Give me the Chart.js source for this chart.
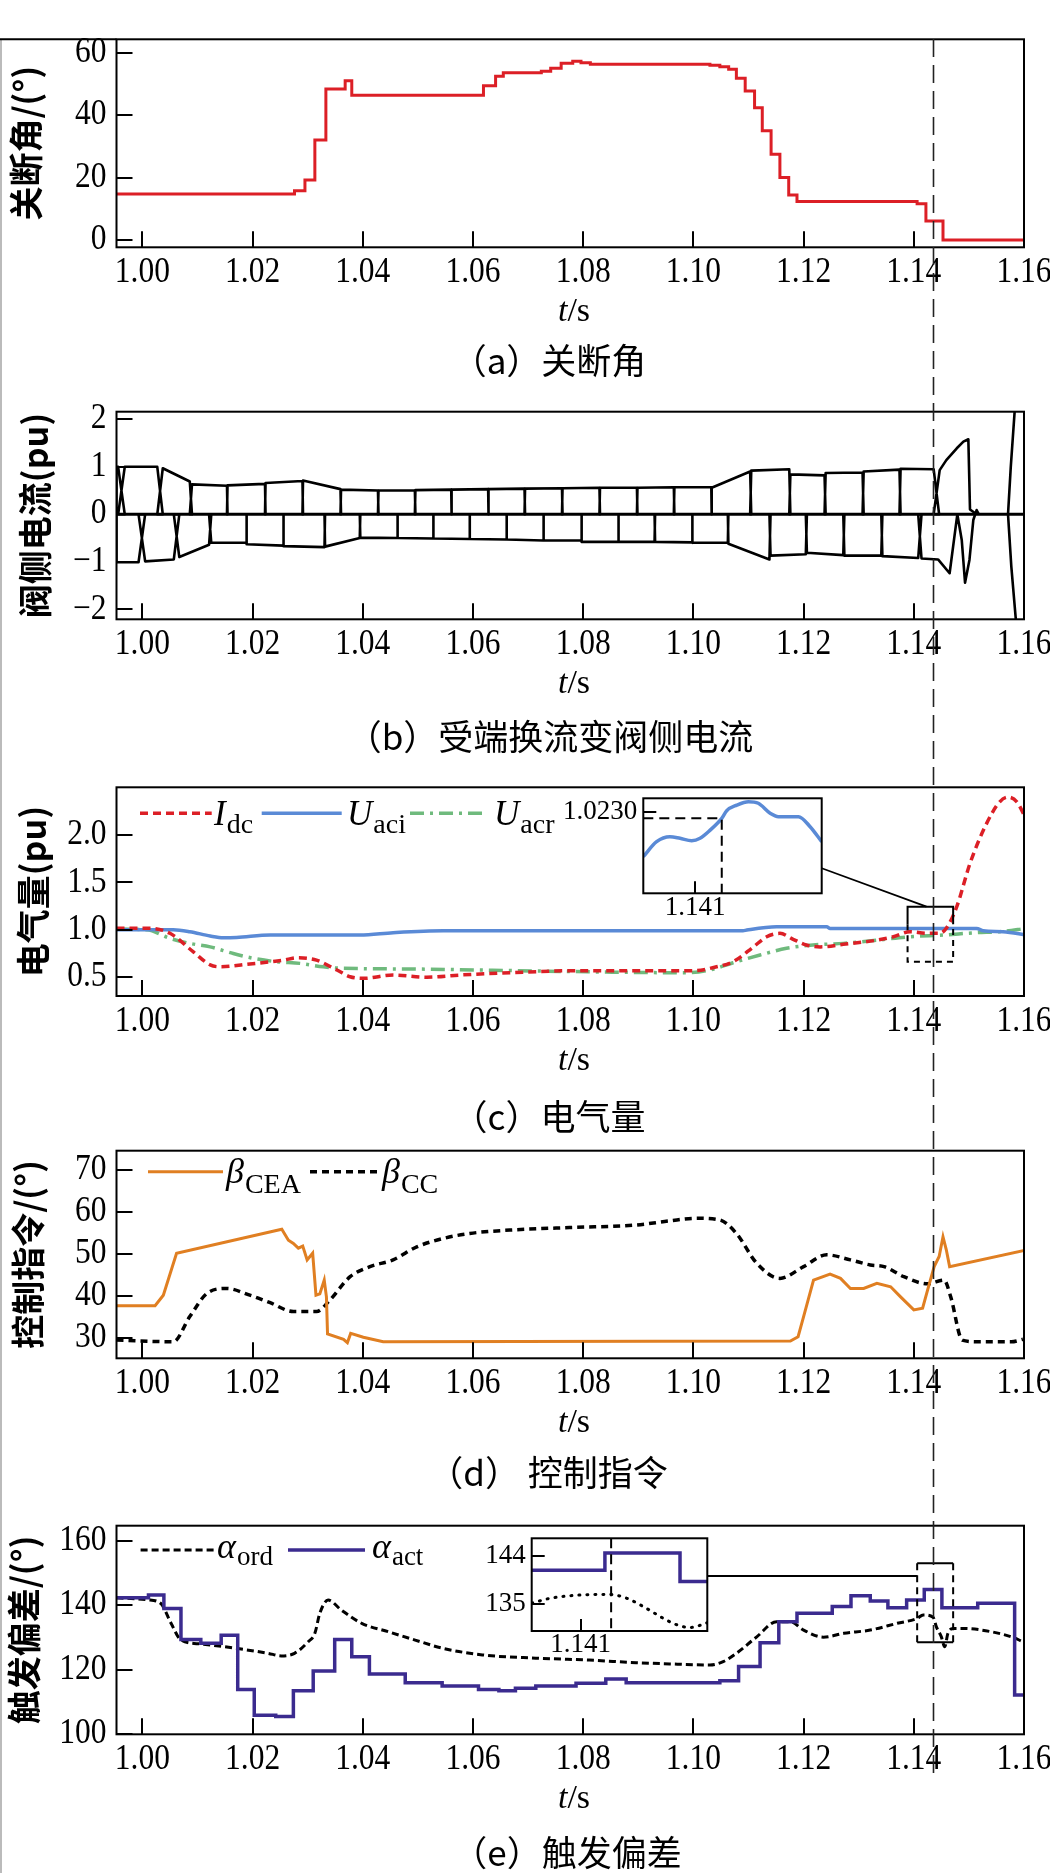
<!DOCTYPE html>
<html>
<head>
<meta charset="utf-8">
<title>换相失败过程波形</title>
<script src="https://cdn.jsdelivr.net/npm/chart.js@4.4.1/dist/chart.umd.min.js"></script>
<style>
  html, body { margin: 0; padding: 0; background: #fff; }
  body { position: relative; width: 1050px; height: 1873px; overflow: hidden; }
  canvas { position: absolute; }
  .cap { position: absolute; width: 600px; text-align: center; font-family: "Noto Sans CJK SC", sans-serif;
         font-size: 35px; line-height: 35px; color: #000; white-space: nowrap; }
  #edge { position: absolute; left: 0; top: 39px; width: 2px; height: 1834px; background: #bbb; }
</style>
</head>
<body>
<div id="edge"></div>
<canvas id="ca" width="1050" height="345" style="left:0;top:0"></canvas>
<canvas id="cb" width="1050" height="330" style="left:0;top:385px"></canvas>
<canvas id="cc" width="1050" height="330" style="left:0;top:765px"></canvas>
<canvas id="cd" width="1050" height="330" style="left:0;top:1128px"></canvas>
<canvas id="ce" width="1050" height="330" style="left:0;top:1503px"></canvas>
<canvas id="ci" width="300" height="140" style="left:540px;top:785px;z-index:2"></canvas>
<canvas id="ei" width="270" height="140" style="left:460px;top:1525px;z-index:2"></canvas>
<canvas id="ov" width="1050" height="1873" style="left:0;top:0;z-index:5;pointer-events:none"></canvas>

<div class="cap" style="left:249px;top:341px">（a）关断角</div>
<div class="cap" style="left:250px;top:717px">（b）受端换流变阀侧电流</div>
<div class="cap" style="left:249px;top:1097px">（c）电气量</div>
<div class="cap" style="left:248px;top:1453px">（d） 控制指令</div>
<div class="cap" style="left:267px;top:1833px">（e）触发偏差</div>

<script>
const SERIF = '"Liberation Serif", "Times New Roman", serif';
const CJK = '"Noto Sans CJK SC", sans-serif';
Chart.defaults.font.family = SERIF;

// shared time axis
const X_MIN = 0.9953, X_MAX = 1.16;
const xTicks = [1.00, 1.02, 1.04, 1.06, 1.08, 1.10, 1.12, 1.14, 1.16];
const faultT = 1.1435;

// (a) 关断角
const aT = [0.9953, 1.0276, 1.0295, 1.0313, 1.0333, 1.0368, 1.0380, 1.0619, 1.0641, 1.0655, 1.0724, 1.0741,
            1.0760, 1.0781, 1.0796, 1.0813, 1.1030, 1.1048, 1.1064, 1.1078, 1.1094, 1.1111, 1.1125, 1.1141,
            1.1157, 1.1173, 1.1188, 1.1406, 1.1422, 1.1453, 1.1600];
const aV = [14.7, 15.8, 19.2, 32.0, 48.4, 51.0, 46.4, 49.4, 52.5, 53.6, 54.1, 55.0, 56.6, 57.3, 56.8, 56.3,
            56.0, 55.5, 54.7, 51.8, 47.7, 42.4, 35.0, 27.5, 20.0, 14.4, 12.3, 11.6, 6.1, 0.0, 0.0];
const aYTicks = [0, 20, 40, 60];

// (b) 阀侧电流: commutation instants, half overlap time, and current level at start/end of each conduction interval
const bUpT = [0.9953, 0.9962, 1.0032, 1.0088, 1.0154, 1.0223, 1.0291, 1.0360, 1.0428, 1.0495, 1.0561, 1.0628,
              1.0694, 1.0762, 1.0830, 1.0898, 1.0965, 1.1033, 1.1104, 1.1175, 1.1239, 1.1308, 1.1375, 1.1441];
const bUpW = [0, 0.0006, 0.0005, 0.0002, 0.00005, 0.00005, 0.00005, 0.00005, 0.00005, 0.00005, 0.00005, 0.00005,
              0.00005, 0.00005, 0.00005, 0.00005, 0.00005, 0.00005, 0.0001, 0.0001, 0.0001, 0.0001, 0.0001, 0.0005];
const bUpA = [1.00, 1.00, 0.97, 0.63, 0.61, 0.66, 0.71, 0.52, 0.50, 0.51, 0.52, 0.53, 0.54, 0.55, 0.56, 0.56,
              0.57, 0.56, 0.92, 0.84, 0.87, 0.90, 0.96];
const bUpB = [1.00, 1.00, 0.69, 0.60, 0.64, 0.70, 0.53, 0.50, 0.50, 0.52, 0.53, 0.54, 0.55, 0.56, 0.56, 0.57,
              0.57, 0.90, 0.95, 0.82, 0.88, 0.94, 0.95];
const bLoT = [0.9953, 0.9999, 1.0062, 1.0123, 1.0189, 1.0256, 1.0331, 1.0395, 1.0463, 1.0528, 1.0594, 1.0661,
              1.0728, 1.0797, 1.0864, 1.0930, 1.0998, 1.1063, 1.1139, 1.1205, 1.1273, 1.1342, 1.1411];
const bLoW = [0, 0.0006, 0.0005, 0.0002, 0.00005, 0.00005, 0.00005, 0.00005, 0.00005, 0.00005, 0.00005, 0.00005,
              0.00005, 0.00005, 0.00005, 0.00005, 0.00005, 0.00005, 0.0001, 0.0001, 0.0001, 0.0001, 0.0003];
const bLoA = [-1.01, -0.99, -0.90, -0.60, -0.63, -0.67, -0.68, -0.49, -0.50, -0.51, -0.52, -0.53, -0.55, -0.58,
              -0.58, -0.58, -0.60, -0.62, -0.87, -0.81, -0.87, -0.88];
const bLoB = [-1.01, -0.95, -0.64, -0.60, -0.66, -0.69, -0.50, -0.50, -0.51, -0.52, -0.53, -0.55, -0.55, -0.58,
              -0.58, -0.59, -0.60, -0.95, -0.84, -0.86, -0.87, -0.92];
const bUpTailT = [1.1436, 1.1447, 1.1459, 1.1478, 1.1490, 1.1499, 1.1502, 1.1514];
const bUpTailV = [0.00, 0.93, 1.14, 1.39, 1.53, 1.58, 0.10, 0.00];
const bLoTailT = [1.1408, 1.1414, 1.1444, 1.1465, 1.1479, 1.1487, 1.1493, 1.1501, 1.1508, 1.1514, 1.1518];
const bLoTailV = [0.00, -0.93, -0.95, -1.24, 0.00, -0.54, -1.44, -0.96, -0.12, 0.09, 0.00];
const bSwUpT = [1.1571, 1.1576, 1.1583, 1.1587];
const bSwUpV = [0, 1.0, 2.16, 2.6];
const bSwDnT = [1.1571, 1.1577, 1.1585, 1.1589];
const bSwDnV = [0, -1.1, -2.19, -2.6];
const bYTicks = [-2, -1, 0, 1, 2];

// (c) 电气量
const cT_dc = [0.9953, 1.0014, 1.0050, 1.0092, 1.0123, 1.0141, 1.0195, 1.0256, 1.0280, 1.0316, 1.0353, 1.0377,
               1.0401, 1.0455, 1.0516, 1.0576, 1.0667, 1.0776, 1.1000, 1.1042, 1.1072, 1.1109, 1.1133, 1.1157,
               1.1181, 1.1205, 1.1230, 1.1272, 1.1332, 1.1363, 1.1393, 1.1423, 1.1447, 1.1459, 1.1478, 1.1502,
               1.1532, 1.1556, 1.1571, 1.1587, 1.1602];
const cV_dc = [1.016, 1.016, 0.963, 0.770, 0.630, 0.610, 0.640, 0.680, 0.705, 0.680, 0.576, 0.505, 0.488, 0.523,
               0.500, 0.523, 0.547, 0.568, 0.568, 0.610, 0.663, 0.820, 0.927, 0.963, 0.900, 0.840, 0.820, 0.847,
               0.890, 0.927, 0.980, 0.963, 0.963, 1.016, 1.244, 1.700, 2.120, 2.350, 2.400, 2.350, 2.190];
const cT_aci = [0.9953, 1.0056, 1.0086, 1.0123, 1.0147, 1.0171, 1.0232, 1.0395, 1.0455, 1.0546, 1.1090, 1.1097,
                1.1151, 1.1242, 1.1248, 1.1514, 1.1526, 1.1562, 1.1605];
const cV_aci = [1.000, 1.000, 0.980, 0.935, 0.917, 0.920, 0.945, 0.945, 0.970, 0.990, 0.990, 0.998, 1.033, 1.033,
                1.015, 1.015, 0.990, 0.980, 0.945];
const cT_acr = [0.9953, 1.0008, 1.0050, 1.0086, 1.0123, 1.0165, 1.0201, 1.0244, 1.0286, 1.0328, 1.0365, 1.0486,
                1.0607, 1.0776, 1.0988, 1.1030, 1.1072, 1.1121, 1.1169, 1.1217, 1.1272, 1.1332, 1.1393, 1.1453,
                1.1514, 1.1556, 1.1605];
const cV_acr = [1.008, 1.000, 0.910, 0.857, 0.820, 0.750, 0.700, 0.663, 0.646, 0.610, 0.594, 0.587, 0.576, 0.560,
                0.547, 0.576, 0.653, 0.734, 0.805, 0.840, 0.857, 0.890, 0.927, 0.945, 0.970, 0.980, 1.016];
const cYTicks = [0.5, 1.0, 1.5, 2.0];
// (c) inset: Uaci around the fault
const ciT = [1.13859, 1.13921, 1.13983, 1.14030, 1.14084, 1.14123, 1.14170, 1.14224, 1.14247, 1.14294, 1.14348,
             1.14394, 1.14449, 1.14488, 1.14581, 1.14635, 1.14689];
const ciV = [1.02075, 1.02150, 1.02175, 1.02167, 1.02155, 1.02167, 1.02208, 1.02267, 1.02305, 1.02333, 1.02350,
             1.02342, 1.02292, 1.02275, 1.02275, 1.02225, 1.02150];
const ciYTicks = [1.0230];
const ciXTicks = [1.141];

// (d) 控制指令
const dT_cea = [0.9953, 1.0023, 1.0038, 1.0062, 1.0253, 1.0265, 1.0274, 1.0283, 1.0291, 1.0299, 1.0309, 1.0315,
                1.0322, 1.0330, 1.0334, 1.0336, 1.0365, 1.0372, 1.0378, 1.0401, 1.0437, 1.1176, 1.1190, 1.1200,
                1.1218, 1.1248, 1.1267, 1.1285, 1.1309, 1.1333, 1.1358, 1.1376, 1.1400, 1.1416, 1.1425, 1.1437,
                1.1446, 1.1453, 1.1459, 1.1465, 1.1605];
const dV_cea = [37.7, 37.7, 40.2, 50.2, 55.9, 53.3, 52.5, 51.4, 51.9, 48.6, 50.2, 40.2, 40.5, 43.8, 39.8, 31.0,
                29.7, 28.9, 31.1, 30.2, 29.1, 29.3, 30.3, 35.1, 43.8, 45.2, 44.2, 41.8, 41.8, 43.0, 42.2, 39.8,
                36.7, 37.1, 41.4, 47.0, 49.4, 54.1, 51.0, 47.0, 51.0];
const dT_cc = [0.9953, 1.0056, 1.0086, 1.0117, 1.0153, 1.0195, 1.0232, 1.0274, 1.0316, 1.0340, 1.0377, 1.0413,
               1.0455, 1.0498, 1.0546, 1.0594, 1.0667, 1.0775, 1.0896, 1.0957, 1.1005, 1.1048, 1.1078, 1.1115,
               1.1157, 1.1200, 1.1242, 1.1285, 1.1321, 1.1346, 1.1382, 1.1425, 1.1455, 1.1467, 1.1488, 1.1516,
               1.1577, 1.1598];
const dV_cc = [29.5, 29.1, 35.1, 40.6, 41.8, 40.2, 38.4, 36.3, 36.3, 39.0, 44.6, 47.0, 48.6, 51.7, 53.7, 54.9,
               55.7, 56.3, 56.9, 57.9, 58.5, 58.1, 54.9, 47.8, 44.2, 47.0, 49.8, 48.6, 47.4, 47.0, 44.6, 42.9,
               43.8, 39.8, 29.5, 29.1, 29.1, 29.7];
const dYTicks = [30, 40, 50, 60, 70];

// (e) 触发偏差
const eT_ord = [0.9953, 1.0009, 1.0033, 1.0052, 1.0070, 1.0106, 1.0167, 1.0228, 1.0252, 1.0276, 1.0301, 1.0313,
                1.0322, 1.0337, 1.0361, 1.0398, 1.0446, 1.0495, 1.0544, 1.0617, 1.0714, 1.0811, 1.0896, 1.0957,
                1.1030, 1.1054, 1.1078, 1.1115, 1.1151, 1.1176, 1.1200, 1.1236, 1.1273, 1.1321, 1.1370, 1.1406,
                1.1417, 1.1435, 1.1441, 1.1450, 1.1456, 1.1462, 1.1471, 1.1491, 1.1540, 1.1577, 1.1598];
const eV_ord = [142.3, 141.7, 140.6, 134.4, 129.2, 128.0, 126.7, 125.1, 124.3, 125.1, 128.7, 131.3, 137.5, 141.6,
                138.5, 134.4, 131.8, 129.2, 126.7, 124.6, 123.6, 123.0, 122.2, 121.8, 121.5, 122.5, 125.1, 130.2,
                134.9, 134.9, 132.3, 130.1, 131.3, 132.3, 134.4, 135.9, 137.0, 136.3, 133.3, 130.2, 127.1, 131.3,
                132.8, 132.8, 131.8, 130.2, 128.7];
const eT_act = [0.9953, 1.0011, 1.0039, 1.0070, 1.0106, 1.0143, 1.0173, 1.0203, 1.0242, 1.0274, 1.0310, 1.0349,
                1.0380, 1.0412, 1.0477, 1.0544, 1.0610, 1.0647, 1.0677, 1.0714, 1.0787, 1.0841, 1.0878, 1.1048,
                1.1082, 1.1121, 1.1155, 1.1188, 1.1252, 1.1286, 1.1321, 1.1353, 1.1387, 1.1419, 1.1451, 1.1516,
                1.1583, 1.1600];
const eV_act = [142.3, 143.2, 139.0, 129.4, 128.2, 130.7, 113.9, 105.9, 105.5, 113.5, 119.6, 129.4, 124.0, 118.7,
                116.0, 115.0, 113.9, 113.5, 114.3, 115.0, 115.8, 117.1, 116.0, 116.6, 121.0, 128.4, 134.9, 137.5,
                139.6, 142.9, 141.3, 139.2, 141.6, 144.9, 139.2, 140.6, 112.2, 112.2];
const eYTicks = [100, 120, 140, 160];
// (e) inset
const eiT_act = [1.13919, 1.14190, 1.14468, 1.14569];
const eiV_act = [141.3, 144.5, 139.2, 139.2];
const eiT_ord = [1.13919, 1.13987, 1.14098, 1.14209, 1.14271, 1.14345, 1.14406, 1.14456, 1.14505, 1.14554, 1.14569];
const eiV_ord = [135.2, 136.1, 136.7, 136.8, 136.1, 134.2, 132.4, 131.2, 130.7, 131.3, 131.6];
const eiYTicks = [135, 144];
const eiXTicks = [1.141];

// ---------- helpers ----------
const pts = (T, V) => T.map((t, i) => ({ x: t, y: V[i] }));

// one side of the valve current: overlap ramps at each commutation, level in between
function envelope(T, W, A, B) {
  const out = [];
  for (let k = 0; k < A.length; k++) {
    out.push({ x: T[k] - W[k], y: 0 }, { x: T[k] + W[k], y: A[k] },
             { x: T[k + 1] - W[k + 1], y: B[k] }, { x: T[k + 1] + W[k + 1], y: 0 });
  }
  return out;
}

const PL = 116.5, PR = 1024;
const LBL_PX = 35, LBL_SX = 0.9;     // condensed serif tick labels
const panels = {
  a: { top: 0,    h: 345, pt: 39.3,   pb: 247.3 },
  b: { top: 385,  h: 330, pt: 411.7,  pb: 619.3 },
  c: { top: 765,  h: 330, pt: 787.3,  pb: 996 },
  d: { top: 1128, h: 330, pt: 1150.7, pb: 1358.3 },
  e: { top: 1503, h: 330, pt: 1525.7, pb: 1734.3 }
};

function hline(ctx, x1, x2, y, color, width, dash) {
  ctx.save();
  ctx.strokeStyle = color; ctx.lineWidth = width; ctx.setLineDash(dash);
  ctx.beginPath(); ctx.moveTo(x1, y); ctx.lineTo(x2, y); ctx.stroke();
  ctx.restore();
}

function symbol(ctx, x, base, main, sub, subBase, mainPx, subPx) {
  ctx.fillStyle = '#000'; ctx.textAlign = 'left'; ctx.textBaseline = 'alphabetic';
  ctx.font = 'italic ' + mainPx + 'px ' + SERIF;
  ctx.fillText(main, x, base);
  const w = ctx.measureText(main).width;
  ctx.font = subPx + 'px ' + SERIF;
  ctx.fillText(sub, x + w + 1, subBase);
}

function label(ctx, text, x, y, align) {
  ctx.save();
  ctx.font = LBL_PX + 'px ' + SERIF;
  ctx.fillStyle = '#000'; ctx.textAlign = align; ctx.textBaseline = 'middle';
  ctx.translate(x, y); ctx.scale(LBL_SX, 1);
  ctx.fillText(text, 0, 0);
  ctx.restore();
}

function framePlugin(p, yFmt, extra) {
  return {
    id: 'frame',
    afterDraw(chart) {
      const { ctx, chartArea: a, scales: { x, y } } = chart;
      ctx.save();
      ctx.strokeStyle = '#000'; ctx.lineWidth = 2; ctx.setLineDash([]);
      ctx.strokeRect(a.left, a.top, a.right - a.left, a.bottom - a.top);
      ctx.beginPath();
      x.ticks.forEach(t => {
        const px = Math.round(x.getPixelForValue(t.value));
        ctx.moveTo(px, a.bottom); ctx.lineTo(px, a.bottom - 16);
      });
      y.ticks.forEach(t => {
        const py = Math.round(y.getPixelForValue(t.value));
        ctx.moveTo(a.left, py); ctx.lineTo(a.left + 16, py);
      });
      ctx.stroke();

      // tick labels
      x.ticks.forEach(t => label(ctx, t.value.toFixed(2), x.getPixelForValue(t.value), a.bottom + 25.5, 'center'));
      y.ticks.forEach(t => label(ctx, yFmt(t.value), a.left - 10, y.getPixelForValue(t.value), 'right'));

      // axis title t/s
      ctx.fillStyle = '#000'; ctx.textBaseline = 'alphabetic'; ctx.textAlign = 'left';
      ctx.font = 'italic 34px ' + SERIF; const w1 = ctx.measureText('t').width;
      ctx.font = '34px ' + SERIF; const w2 = ctx.measureText('/s').width;
      const x0 = 574 - (w1 + w2) / 2, base = a.bottom + 74;
      ctx.font = 'italic 34px ' + SERIF; ctx.fillText('t', x0, base);
      ctx.font = '34px ' + SERIF; ctx.fillText('/s', x0 + w1, base);

      if (extra) extra(ctx, x, y, a, p.top);
      ctx.restore();
    }
  };
}

function mainChart(id, p, yr, yTicks, yFmt, yTitle, titlePad, datasets, extra) {
  return new Chart(document.getElementById(id), {
    type: 'line',
    data: { datasets },
    options: {
      responsive: false, animation: false, devicePixelRatio: 1,
      layout: { padding: { left: 0, right: 1050 - PR, top: p.pt - p.top, bottom: 0 } },
      plugins: { legend: { display: false }, tooltip: { enabled: false } },
      elements: { point: { radius: 0 } },
      scales: {
        x: {
          type: 'linear', min: X_MIN, max: X_MAX,
          grid: { display: false, drawTicks: false }, border: { display: false },
          afterBuildTicks: s => { s.ticks = xTicks.map(v => ({ value: v })); },
          afterFit: s => { s.height = p.top + p.h - p.pb; s.paddingLeft = 0; s.paddingRight = 0; },
          ticks: { display: false }
        },
        y: {
          type: 'linear', min: yr[0], max: yr[1],
          grid: { display: false, drawTicks: false }, border: { display: false },
          afterBuildTicks: s => { s.ticks = yTicks.map(v => ({ value: v })); },
          afterFit: s => { s.width = PL; s.paddingTop = 0; s.paddingBottom = 0; },
          ticks: { display: false },
          title: { display: true, text: yTitle, color: '#000',
                   font: { family: CJK, size: 34, weight: 'bold', lineHeight: 1 },
                   padding: { top: titlePad, bottom: 0 } }
        }
      }
    },
    plugins: [framePlugin(p, yFmt, extra)]
  });
}

function insetChart(id, g, xr, yr, xT, yT, yFmt, datasets, extra) {
  return new Chart(document.getElementById(id), {
    type: 'line',
    data: { datasets },
    options: {
      responsive: false, animation: false, devicePixelRatio: 1,
      layout: { padding: { left: 0, right: g.left + g.w - g.ar, top: g.at - g.top, bottom: 0 } },
      plugins: { legend: { display: false }, tooltip: { enabled: false } },
      elements: { point: { radius: 0 } },
      scales: {
        x: {
          type: 'linear', min: xr[0], max: xr[1],
          grid: { display: false, drawTicks: false }, border: { display: false },
          afterBuildTicks: s => { s.ticks = xT.map(v => ({ value: v })); },
          afterFit: s => { s.height = g.top + g.h - g.ab; s.paddingLeft = 0; s.paddingRight = 0; },
          ticks: { color: '#000', font: { family: SERIF, size: 27, lineHeight: 1 }, padding: g.xpad,
                   maxRotation: 0, autoSkip: false, callback: v => v.toFixed(3) }
        },
        y: {
          type: 'linear', min: yr[0], max: yr[1],
          grid: { display: false, drawTicks: false }, border: { display: false },
          afterBuildTicks: s => { s.ticks = yT.map(v => ({ value: v })); },
          afterFit: s => { s.width = g.al - g.left; s.paddingTop = 0; s.paddingBottom = 0; },
          ticks: { color: '#000', font: { family: SERIF, size: 27, lineHeight: 1 }, padding: 6, callback: yFmt }
        }
      }
    },
    plugins: [{
      id: 'insetFrame',
      beforeDraw(chart) {
        const { ctx, chartArea: a } = chart;
        ctx.save(); ctx.fillStyle = '#fff';
        ctx.fillRect(a.left, a.top, a.right - a.left, a.bottom - a.top); ctx.restore();
      },
      afterDraw(chart) {
        const { ctx, chartArea: a, scales: { x, y } } = chart;
        ctx.save();
        if (extra) extra(ctx, x, y, a);
        ctx.setLineDash([]); ctx.strokeStyle = '#000'; ctx.lineWidth = 2;
        ctx.strokeRect(a.left, a.top, a.right - a.left, a.bottom - a.top);
        ctx.beginPath();
        x.ticks.forEach(t => { const px = Math.round(x.getPixelForValue(t.value)); ctx.moveTo(px, a.bottom); ctx.lineTo(px, a.bottom - 12); });
        y.ticks.forEach(t => { const py = Math.round(y.getPixelForValue(t.value)); ctx.moveTo(a.left, py); ctx.lineTo(a.left + 13, py); });
        ctx.stroke();
        ctx.restore();
      }
    }]
  });
}

const RED = '#dc1f26', BLUE = '#5a8ad6', GREEN = '#6fba7d', ORANGE = '#e07f22', PURPLE = '#3b2b8f';

// ---------- (a) ----------
const chA = mainChart('ca', panels.a, [-2.34, 64.3], aYTicks, v => String(v), '关断角/(°)', 9.5, [
  { data: pts(aT, aV), borderColor: RED, borderWidth: 3, stepped: true }
], (ctx, x, y, a) => {
  ctx.strokeStyle = '#000'; ctx.lineWidth = 2;
  ctx.beginPath(); ctx.moveTo(0, a.top); ctx.lineTo(a.left, a.top); ctx.stroke();
});

// ---------- (b) ----------
const blk = { borderColor: '#000', borderWidth: 2.6, borderJoinStyle: 'round' };
mainChart('cb', panels.b, [-2.21, 2.16], bYTicks, v => String(v).replace('-', '\u2212'), '阀侧电流(pu)', 18, [
  Object.assign({ data: [{ x: X_MIN, y: 0 }, { x: X_MAX, y: 0 }] }, blk, { borderWidth: 3 }),
  Object.assign({ data: envelope(bUpT, bUpW, bUpA, bUpB).concat(pts(bUpTailT, bUpTailV)) }, blk),
  Object.assign({ data: envelope(bLoT, bLoW, bLoA, bLoB).concat(pts(bLoTailT, bLoTailV)) }, blk),
  Object.assign({ data: pts(bSwUpT, bSwUpV) }, blk),
  Object.assign({ data: pts(bSwDnT, bSwDnV) }, blk)
]);

// ---------- (c) ----------
const cBox = [1.13887, 1.14714, 0.663, 1.244];     // t1, t2, v1, v2 of the zoom window
const cLink = [1.1233, 1.649, 1.1423, 1.244];
mainChart('cc', panels.c, [0.302, 2.503], cYTicks, v => v.toFixed(1), '电气量(pu)', 16, [
  { data: pts(cT_dc, cV_dc), borderColor: RED, borderWidth: 3.5, borderDash: [8, 5], cubicInterpolationMode: 'monotone' },
  { data: pts(cT_aci, cV_aci), borderColor: BLUE, borderWidth: 3.5, cubicInterpolationMode: 'monotone' },
  { data: pts(cT_acr, cV_acr), borderColor: GREEN, borderWidth: 3.5, borderDash: [14, 6, 3, 6], cubicInterpolationMode: 'monotone' }
], (ctx, x, y, a, off) => {
  const bx1 = x.getPixelForValue(cBox[0]), bx2 = x.getPixelForValue(cBox[1]);
  const byT = y.getPixelForValue(cBox[3]), byB = y.getPixelForValue(cBox[2]), byM = y.getPixelForValue(1.06);
  ctx.strokeStyle = '#000'; ctx.lineWidth = 2; ctx.setLineDash([]);
  ctx.beginPath(); ctx.moveTo(bx1, byM); ctx.lineTo(bx1, byT); ctx.lineTo(bx2, byT); ctx.lineTo(bx2, byM); ctx.stroke();
  ctx.setLineDash([6, 5]);
  ctx.beginPath(); ctx.moveTo(bx1, byM); ctx.lineTo(bx1, byB); ctx.lineTo(bx2, byB); ctx.lineTo(bx2, byM); ctx.stroke();
  ctx.setLineDash([]); ctx.lineWidth = 1.8;
  ctx.beginPath();
  ctx.moveTo(x.getPixelForValue(cLink[0]), y.getPixelForValue(cLink[1]));
  ctx.lineTo(x.getPixelForValue(cLink[2]), y.getPixelForValue(cLink[3]));
  ctx.stroke();
  // legend
  const ly = 813.3 - off, lb = 825 - off, sb = 833 - off;
  hline(ctx, 140, 211.7, ly, RED, 3.5, [8, 5]);
  symbol(ctx, 214, lb, 'I', 'dc', sb, 35, 28);
  hline(ctx, 261.7, 341.7, ly, BLUE, 3.5, []);
  symbol(ctx, 347, lb, 'U', 'aci', sb, 35, 28);
  hline(ctx, 410, 486.7, ly, GREEN, 3.5, [14, 6, 3, 6]);
  symbol(ctx, 494, lb, 'U', 'acr', sb, 35, 28);
});

const ciGuide = [1.14224, 1.02267];
insetChart('ci', { left: 540, top: 785, w: 300, h: 140, al: 643.3, at: 798.3, ar: 821.7, ab: 893.3, xpad: 1.5 },
  [1.13859, 1.14689], [1.01892, 1.02367], ciXTicks, ciYTicks, v => v.toFixed(4), [
  { data: pts(ciT, ciV), borderColor: BLUE, borderWidth: 3.5, cubicInterpolationMode: 'monotone' }
], (ctx, x, y, a) => {
  const gx = x.getPixelForValue(ciGuide[0]), gy = y.getPixelForValue(ciGuide[1]);
  ctx.strokeStyle = '#000'; ctx.lineWidth = 2; ctx.setLineDash([10, 6]);
  ctx.beginPath(); ctx.moveTo(a.left, gy); ctx.lineTo(gx, gy); ctx.lineTo(gx, a.bottom); ctx.stroke();
});

// ---------- (d) ----------
mainChart('cd', panels.d, [25.17, 74.6], dYTicks, v => String(v), '控制指令/(°)', 11, [
  { data: pts(dT_cea, dV_cea), borderColor: ORANGE, borderWidth: 3 },
  { data: pts(dT_cc, dV_cc), borderColor: '#000', borderWidth: 3.5, borderDash: [7, 5], cubicInterpolationMode: 'monotone' }
], (ctx, x, y, a, off) => {
  const ly = 1171.7 - off, lb = 1183 - off, sb = 1193.3 - off;
  hline(ctx, 148, 223, ly, ORANGE, 3, []);
  symbol(ctx, 226, lb, 'β', 'CEA', sb, 36, 28);
  hline(ctx, 310, 380, ly, '#000', 3.5, [7, 5]);
  symbol(ctx, 382, lb, 'β', 'CC', sb, 36, 28);
});

// ---------- (e) ----------
const eBox = [1.14061, 1.14714, 128.5, 153];
const eLink = [1.10252, 149.05, 1.14061, 149.05];
mainChart('ce', panels.e, [100, 164.64], eYTicks, v => String(v), '触发偏差/(°)', 7, [
  { data: pts(eT_act, eV_act), borderColor: PURPLE, borderWidth: 3.5, stepped: true },
  { data: pts(eT_ord, eV_ord), borderColor: '#000', borderWidth: 3, borderDash: [7, 4], cubicInterpolationMode: 'monotone' }
], (ctx, x, y, a, off) => {
  const bx1 = x.getPixelForValue(eBox[0]), bx2 = x.getPixelForValue(eBox[1]);
  const byT = y.getPixelForValue(eBox[3]), byB = y.getPixelForValue(eBox[2]);
  ctx.strokeStyle = '#000'; ctx.lineWidth = 2; ctx.setLineDash([]);
  ctx.beginPath(); ctx.moveTo(bx1, byT); ctx.lineTo(bx2, byT); ctx.moveTo(bx1, byB); ctx.lineTo(bx2, byB); ctx.stroke();
  ctx.setLineDash([7, 5]);
  ctx.beginPath(); ctx.moveTo(bx1, byT); ctx.lineTo(bx1, byB); ctx.moveTo(bx2, byT); ctx.lineTo(bx2, byB); ctx.stroke();
  ctx.setLineDash([]); ctx.lineWidth = 1.8;
  const ly2 = y.getPixelForValue(eLink[1]);
  ctx.beginPath(); ctx.moveTo(x.getPixelForValue(eLink[0]), ly2); ctx.lineTo(x.getPixelForValue(eLink[2]), ly2); ctx.stroke();
  // legend
  const ly = 1550 - off, lb = 1558.3 - off, sb = 1565 - off;
  hline(ctx, 140.6, 214.3, ly, '#000', 3, [7, 4]);
  symbol(ctx, 217, lb, 'α', 'ord', sb, 36, 27);
  hline(ctx, 288, 365, ly, PURPLE, 3.5, []);
  symbol(ctx, 372, lb, 'α', 'act', sb, 36, 27);
});

const eiGuide = 1.14213;
insetChart('ei', { left: 460, top: 1525, w: 270, h: 140, al: 531.7, at: 1538.3, ar: 707.3, ab: 1631, xpad: 0.5 },
  [1.13919, 1.14569], [130.05, 147.2], eiXTicks, eiYTicks, v => String(v), [
  { data: pts(eiT_act, eiV_act), borderColor: PURPLE, borderWidth: 3.5, stepped: true },
  { data: pts(eiT_ord, eiV_ord), borderColor: '#000', borderWidth: 3, borderDash: [1, 7], borderCapStyle: 'round',
    cubicInterpolationMode: 'monotone' }
], (ctx, x, y, a) => {
  const gx = x.getPixelForValue(eiGuide);
  ctx.strokeStyle = '#000'; ctx.lineWidth = 2; ctx.setLineDash([10, 6]);
  ctx.beginPath(); ctx.moveTo(gx, a.top); ctx.lineTo(gx, a.bottom); ctx.stroke();
});

// ---------- long dashed fault-instant line across all panels ----------
const ov = document.getElementById('ov').getContext('2d');
const fx = Math.round(chA.scales.x.getPixelForValue(faultT)) + 0.5;
ov.strokeStyle = '#222'; ov.lineWidth = 1.6; ov.setLineDash([18, 8]);
ov.beginPath(); ov.moveTo(fx, 39); ov.lineTo(fx, 1775); ov.stroke();
</script>
</body>
</html>
